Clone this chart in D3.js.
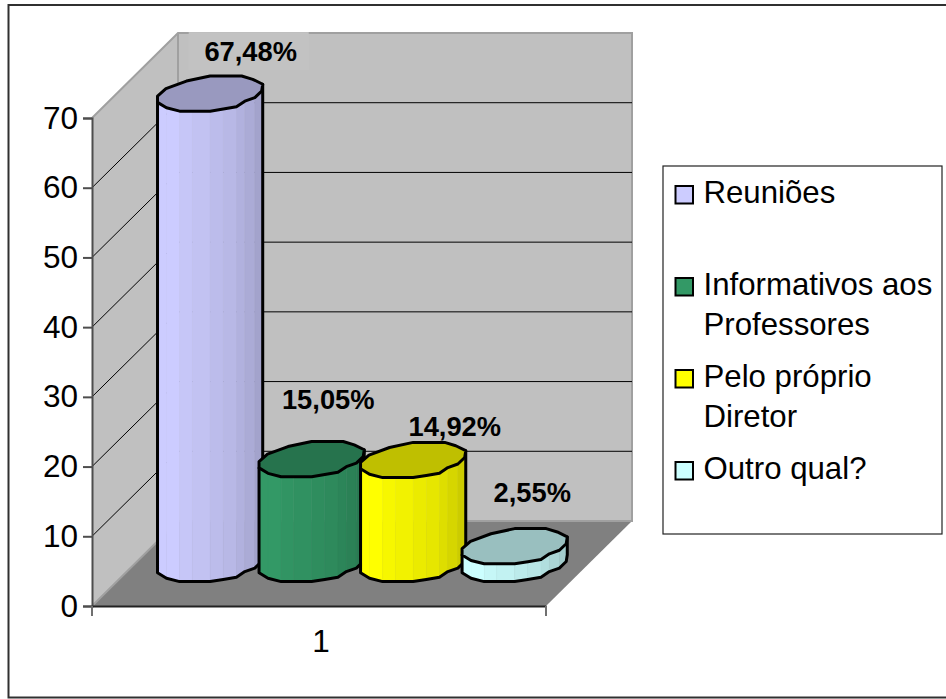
<!DOCTYPE html>
<html>
<head>
<meta charset="utf-8">
<script src="https://cdn.jsdelivr.net/npm/d3@7/dist/d3.min.js"></script>
<style>
  html, body { margin: 0; padding: 0; background: #fff; }
  svg { display: block; }
  text { font-family: "Liberation Sans", Arial, sans-serif; fill: #000; }
</style>
</head>
<body>
<svg id="chart" width="946" height="699"></svg>
<script>
// Chart values
const seriesNames = ["Reuniões", "Informativos aos Professores", "Pelo próprio Diretor", "Outro qual?"];
const seriesValues = [67.48, 15.05, 14.92, 2.55];
const valueLabels = ["67,48%", "15,05%", "14,92%", "2,55%"];
const seriesColors = ["#ccccff", "#339966", "#ffff00", "#ccffff"];
const valueTicks = [0, 10, 20, 30, 40, 50, 60, 70];
const categoryLabels = ["1"];
const legendLines = [["Reuniões"], ["Informativos aos", "Professores"], ["Pelo próprio", "Diretor"], ["Outro qual?"]];

const svg = d3.select("#chart");

// Oblique projection of the chart box
const front = { left: 92, right: 546, floor: 606, top: 118 };
const depth = { x: 86, y: 85 };
const midDepth = { x: 43.4, y: 42 };

const y = d3.scaleLinear().domain([0, 70]).range([front.floor, front.top]);
const categoryX = d3.scaleBand().domain(categoryLabels).range([front.left, front.right]);
const barX = d3.scaleBand()
  .domain(seriesNames)
  .range([front.left + midDepth.x, front.right + midDepth.x])
  .paddingInner(0)
  .paddingOuter(0.236);

const polygon = pts => "M" + pts.map(p => p.join(",")).join("L") + "Z";

// Chart frame (runs off the right edge of the canvas)
svg.append("rect").attr("x", 8.5).attr("y", 5).attr("width", 960).attr("height", 692.5)
  .attr("fill", "#fff").attr("stroke", "#303030").attr("stroke-width", 2);

// Walls and floor
const wallFill = "#c0c0c0", wallEdge = "#a0a0a0";
const backLeft = front.left + depth.x, backRight = front.right + depth.x;
const backFloor = front.floor - depth.y, backTop = front.top - depth.y;

svg.append("path").attr("fill", wallFill).attr("d", polygon([
  [front.left, front.top], [backLeft, backTop], [backLeft, backFloor], [front.left, front.floor]]));
svg.append("path").attr("fill", wallFill).attr("d", polygon([
  [backLeft, backTop], [backRight, backTop], [backRight, backFloor], [backLeft, backFloor]]));
svg.append("path").attr("fill", "#808080").attr("d", polygon([
  [front.left, front.floor], [front.right, front.floor], [backRight, backFloor], [backLeft, backFloor]]));

// Wall edges
svg.append("path").attr("fill", "none").attr("stroke", wallEdge).attr("stroke-width", 2)
  .attr("d", `M${front.left},${front.top}L${backLeft},${backTop}L${backRight},${backTop}L${backRight},${backFloor}L${backLeft},${backFloor}L${front.left},${front.floor}M${backLeft},${backTop}V${backFloor}`);

// Gridlines on the back and side walls
const gridTicks = valueTicks.filter(t => t > 0 && t < 70);
svg.append("g").selectAll("path").data(gridTicks).join("path")
  .attr("fill", "none").attr("stroke", "#000").attr("stroke-width", 1)
  .attr("d", t => `M${front.left},${y(t)}L${backLeft},${y(t) - depth.y}L${backRight},${y(t) - depth.y}`);

// Axes
const axisColor = "#4d4d4d";
const yAxis = svg.append("g").attr("transform", `translate(${front.left},0)`)
  .call(d3.axisLeft(y).tickValues(valueTicks).tickSize(9).tickPadding(5));
yAxis.select(".domain").attr("stroke", axisColor).attr("stroke-width", 2);
yAxis.selectAll(".tick line").attr("stroke", axisColor).attr("stroke-width", 2);
yAxis.selectAll(".tick text").attr("font-size", 31.5).attr("font-family", "Liberation Sans").attr("fill", "#000");

const xAxis = svg.append("g").attr("transform", `translate(0,${front.floor})`)
  .call(d3.axisBottom(categoryX).tickSize(0).tickPadding(22));
xAxis.select(".domain").attr("stroke", "#222").attr("stroke-width", 2);
xAxis.selectAll(".tick text").attr("font-size", 31.5).attr("font-family", "Liberation Sans").attr("fill", "#000")
  .attr("dx", 2).attr("dy", "0.75em");
svg.append("g").selectAll("line").data([front.left, front.right]).join("line")
  .attr("x1", d => d).attr("x2", d => d).attr("y1", front.floor).attr("y2", front.floor + 10)
  .attr("stroke", "#707070").attr("stroke-width", 2);

// Faceted cylinder cross-section, in units of the half-width and half-height
const outlineBack = [[-1, 0.14], [-0.84, -0.28], [-0.45, -0.71], [0, -1], [0.6, -1], [0.81, -0.81]];
const outlineFront = [[-1, 0.5], [-0.83, 0.81], [-0.58, 1], [-0.34, 1], [0, 1], [0.25, 0.88], [0.5, 0.75],
  [0.66, 0.43], [0.85, 0.23], [0.98, -0.14], [1, -0.53]];
const facetShade = [1, 1, 0.97, 0.95, 0.92, 0.9, 0.87, 0.84, 0.8, 0.76];
const halfW = 52.6, halfH = 17.6;
const topShade = 0.75;

const shade = (color, k) => {
  const c = d3.rgb(color);
  return d3.rgb(c.r * k, c.g * k, c.b * k).formatHex();
};

// Cylinders, drawn left to right so later ones overlap earlier ones
const bars = svg.append("g").selectAll("g")
  .data(seriesNames.map((name, i) => ({ name, value: seriesValues[i], color: seriesColors[i] })))
  .join("g");

bars.each(function (d) {
  const g = d3.select(this);
  const cx = barX(d.name) + barX.bandwidth() / 2;
  const yBase = y(0) - midDepth.y;
  const yTop = y(d.value) - midDepth.y;
  const at = (p, cy) => [cx + p[0] * halfW, cy + p[1] * halfH];

  // Side facets, lit from the left
  d3.pairs(outlineFront).forEach(([a, b], i) => {
    g.append("path")
      .attr("fill", shade(d.color, facetShade[i]))
      .attr("stroke", shade(d.color, facetShade[i]))
      .attr("stroke-width", 0.5)
      .attr("d", polygon([at(a, yTop), at(b, yTop), at(b, yBase), at(a, yBase)]));
  });

  // Silhouette of the side
  const lastFront = outlineFront[outlineFront.length - 1];
  g.append("path").attr("fill", "none").attr("stroke", "#000").attr("stroke-width", 3)
    .attr("stroke-linejoin", "round")
    .attr("d", polygon([at(outlineFront[0], yTop), ...outlineFront.map(p => at(p, yBase)), at(lastFront, yTop)]));

  // Top cap
  const cap = [...outlineBack, ...outlineFront.slice().reverse()].map(p => at(p, yTop));
  g.append("path").attr("fill", shade(d.color, topShade)).attr("stroke", "#000")
    .attr("stroke-width", 3).attr("stroke-linejoin", "round").attr("d", polygon(cap));
});

// Value labels; the tallest one sits on a wall-coloured plate
const labelOffset = [40.6, 16.6, 41.6, 17.6];
const labelRise = [32.5, 50, 24, 44];
const labels = svg.append("g").selectAll("g").data(seriesNames).join("g");
labels.each(function (name, i) {
  const g = d3.select(this);
  const cx = barX(name) + barX.bandwidth() / 2 + labelOffset[i];
  const baseline = y(seriesValues[i]) - midDepth.y - labelRise[i];
  if (i === 0) {
    g.append("rect").attr("x", cx - 62).attr("y", baseline - 29).attr("width", 120).attr("height", 38).attr("fill", "#c2c2c2");
  }
  g.append("text").attr("x", cx).attr("y", baseline).attr("text-anchor", "middle")
    .attr("font-size", 27.3).attr("font-weight", "bold").attr("fill", "#111").text(valueLabels[i]);
});

// Legend
const legendBox = { x: 663, y: 166, w: 279, h: 368 };
svg.append("rect").attr("x", legendBox.x).attr("y", legendBox.y).attr("width", legendBox.w).attr("height", legendBox.h)
  .attr("fill", "#fff").attr("stroke", "#222").attr("stroke-width", 1.2);

const legendY = d3.scalePoint().domain(seriesNames).range([195, 471]);
const legend = svg.append("g").selectAll("g").data(seriesNames).join("g");
legend.append("rect")
  .attr("x", 675.5).attr("y", d => legendY(d) - 9).attr("width", 17.5).attr("height", 17.5)
  .attr("fill", (d, i) => seriesColors[i]).attr("stroke", "#000").attr("stroke-width", 2);
legend.each(function (name, i) {
  d3.select(this).selectAll("text").data(legendLines[i]).join("text")
    .attr("x", 703.5)
    .attr("y", (line, j) => legendY(name) + 8 + j * 40)
    .attr("font-size", 31.2)
    .text(line => line);
});
</script>
</body>
</html>
